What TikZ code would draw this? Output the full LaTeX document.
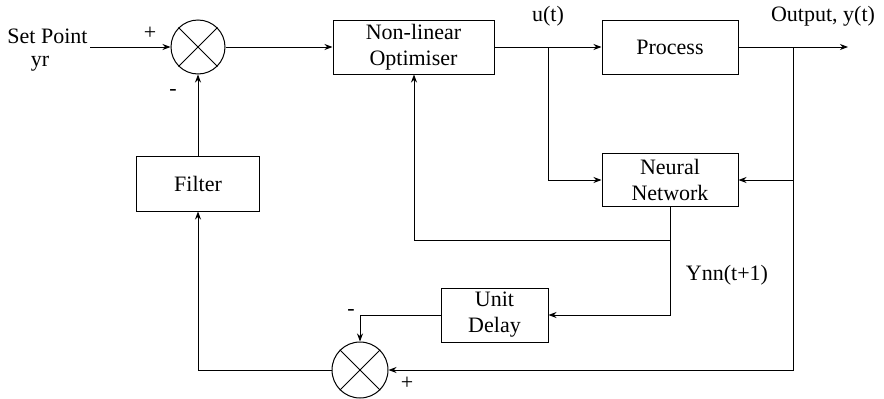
\documentclass[tikz,border=0pt]{standalone}
\usepackage{fontspec}
\setmainfont{Liberation Serif}
\usetikzlibrary{arrows.meta}
\begin{document}
\begin{tikzpicture}[x=1pt,y=-1pt,
  font=\fontsize{22}{26}\selectfont,
  line width=1pt,
  arr/.style={-{Stealth[length=8pt,width=6pt,inset=2.5pt]}},
  blk/.style={draw,rectangle,inner sep=0pt,align=center},
  sumj/.style={draw,circle,inner sep=0pt},
  lbl/.style={inner sep=0pt}]
\useasboundingbox (0,0) rectangle (884,399);
% blocks
\node[blk,minimum width=161pt,minimum height=54pt] (opt) at (413.5,47) {Non-linear\\Optimiser};
\node[blk,minimum width=136pt,minimum height=54pt] (proc) at (670,47) {Process};
\node[blk,minimum width=136pt,minimum height=53pt] (nn) at (670,180) {Neural\\Network};
\node[blk,minimum width=123pt,minimum height=55pt] (filt) at (198,183.5) {Filter};
\node[blk,minimum width=107pt,minimum height=54pt] (ud) at (494.5,315) {Unit\\Delay};
% summing junctions
\node[sumj,minimum size=54pt] (s1) at (198,47) {};
\node[sumj,minimum size=56pt] (s2) at (360,370) {};
\draw (s1.45) -- (s1.225) (s1.135) -- (s1.-45);
\draw (s2.45) -- (s2.225) (s2.135) -- (s2.-45);
% coordinates
\coordinate (sp) at (90,47);
\coordinate (b1) at (548,47);
\coordinate (b2) at (793,47);
\coordinate (out) at (848,47);
% labels
\node[lbl] (tsp) at (47.5,36) {Set Point};
\node[lbl] (tyr) at (40,64) {yr};
\node[lbl] (p1) at (150,33) {+};
\node[lbl] (m1) at (173,92) {-};
\node[lbl] (m2) at (351,312) {-};
\node[lbl] (p2) at (407,383) {+};
\node[lbl] (tu) at (548,16) {u(t)};
\node[lbl] (tout) at (823,16) {Output, y(t)};
\node[lbl] (tynn) at (727,275) {Ynn(t+1)};
% connectors
\draw[arr] (sp) -- (s1.west);
\draw[arr] (s1.east) -- (opt.west);
\draw[arr] (opt.east) -- (proc.west);
\draw[arr] (b1) |- (nn.west);
\draw[arr] (proc.east) -- (out);
\draw[arr] (b2) |- (nn.east);
\draw[arr] (b2) |- (s2.east);
\draw[arr] (nn.south) -- (670,240) -| (opt.south -| 414,0);
\draw[arr] (nn.south) |- (ud.east);
\draw[arr] (ud.west) -| (s2.north);
\draw[arr] (s2.west) -| (filt.south);
\draw[arr] (filt.north) -- (s1.south);
\end{tikzpicture}
\end{document}
